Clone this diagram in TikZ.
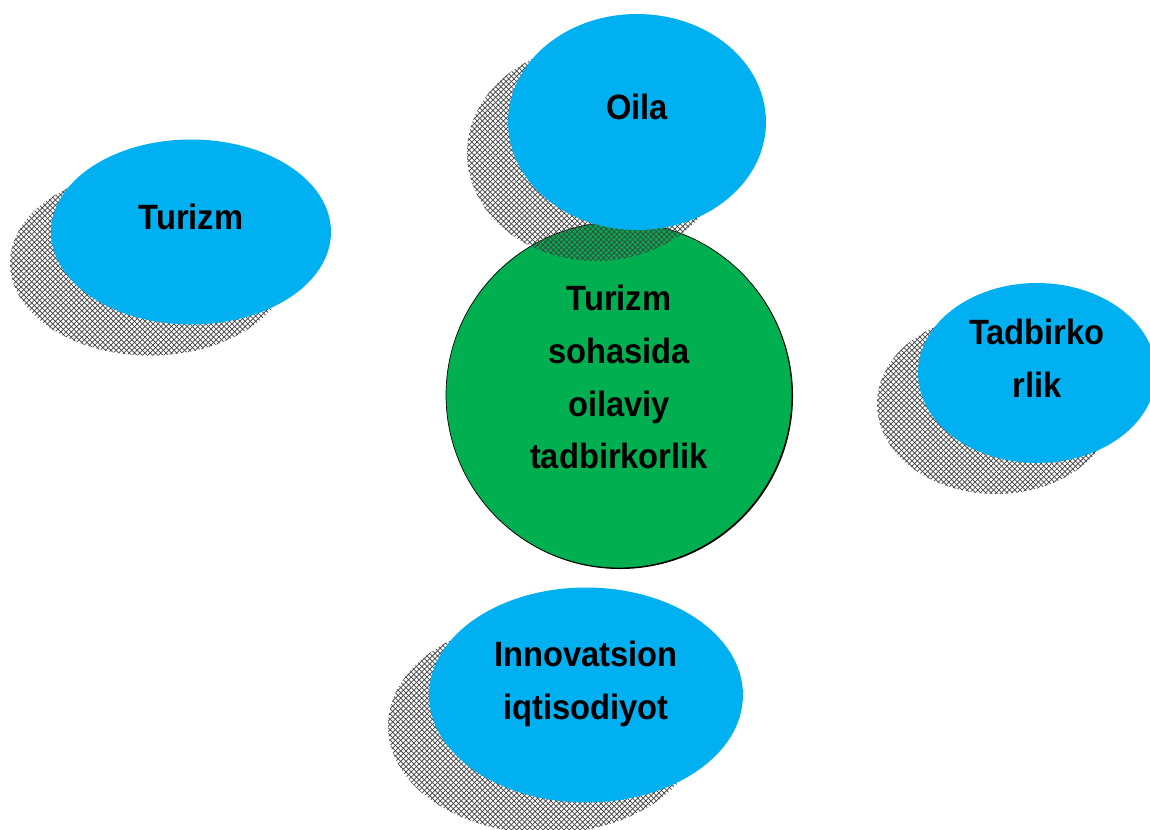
\documentclass[tikz,border=0pt]{standalone}
\usepackage{fontspec}
\setmainfont{Liberation Sans}[FakeStretch=0.93]
\usetikzlibrary{shapes.geometric,shadows,patterns}
\definecolor{kokrang}{HTML}{00B0F0}
\definecolor{yashil}{HTML}{00B050}
\tikzset{
  matn/.style = {align=center, text centered,
    font=\bfseries\fontsize{20}{30}\selectfont, text depth=0.6cm},
  soya/.style = {drop shadow={shadow xshift=-0.82cm, shadow yshift=-0.62cm,
    opacity=1, pattern=crosshatch, pattern color=black!75}},
  ell_n/.style = {matn, ellipse, fill=kokrang, inner sep=0pt, soya},% ko'k ellips
  doira_n/.style = {matn, circle, fill=yashil, draw=black, inner sep=0pt,
    minimum size=6.92cm, text depth=0.72cm,
    drop shadow={shadow xshift=0.6pt, shadow yshift=-0.6pt, opacity=1, fill=black}},
}

\begin{document}
\begin{tikzpicture}[x=0.02cm, y=-0.02cm]
\useasboundingbox (0,0) rectangle (1150,830);
\node [ell_n, minimum width=5.6cm, minimum height=3.7cm] (turizm) at (191,232) {Turizm};
\node [doira_n] (markaz) at (619,395) {Turizm\\sohasida\\oilaviy\\tadbirkorlik};
\node [ell_n, minimum width=5.16cm, minimum height=4.32cm] (oila) at (637,122) {Oila};
\node [ell_n, minimum width=4.76cm, minimum height=3.6cm] (tadbir) at (1037,373) {Tadbirko\\rlik};
\node [ell_n, minimum width=6.28cm, minimum height=4.3cm] (innov) at (586,695) {Innovatsion\\iqtisodiyot};
\end{tikzpicture}
\end{document}
